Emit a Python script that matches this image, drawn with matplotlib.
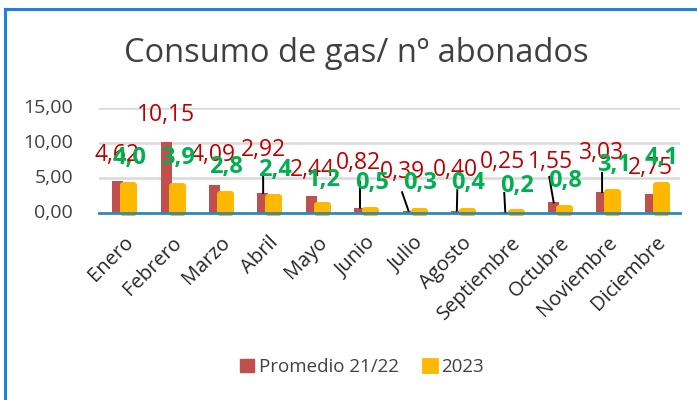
import matplotlib
matplotlib.use('Agg')
import matplotlib.pyplot as plt
import matplotlib.transforms as mtransforms
from matplotlib.patches import Patch
from matplotlib.lines import Line2D
import numpy as np

plt.rcParams['font.family'] = ['Open Sans', 'DejaVu Sans']

# ---- data ----
months = ['Enero', 'Febrero', 'Marzo', 'Abril', 'Mayo', 'Junio', 'Julio',
          'Agosto', 'Septiembre', 'Octubre', 'Noviembre', 'Diciembre']
promedio = [4.62, 10.15, 4.09, 2.92, 2.44, 0.82, 0.39, 0.40, 0.25, 1.55, 3.03, 2.75]
y2023 = [4.0, 3.9, 2.8, 2.4, 1.2, 0.5, 0.3, 0.4, 0.2, 0.8, 3.1, 4.1]
series_names = ['Promedio 21/22', '2023']
yticks = [0, 5, 10, 15]
title = 'Consumo de gas/ nº abonados'

# label placement (data units, relative to category)
red_dx = [-0.13, -0.12, -0.14, -0.11, -0.10, -0.15, -0.24, -0.14, -0.17, -0.18, -0.11, -0.12]
red_y = [8.3, 14.0, 8.3, 9.0, 6.2, 7.2, 5.9, 6.2, 7.3, 7.3, 8.6, 6.5]
green_dx = [0.13] * 12
green_y = [7.9, 7.9, 6.6, 6.2, 4.8, 4.3, 4.3, 4.3, 3.9, 4.6, 6.9, 7.9]
# leader lines: (category, end dx, end y)
leaders = [(3, -0.11, 5.2), (5, -0.11, 4.5), (6, -0.24, 3.0), (7, -0.10, 3.3),
           (8, -0.13, 2.9), (9, -0.20, 5.2), (10, -0.11, 5.75)]

RED = '#C0504D'
GOLD = '#FFB800'
RED_TXT = '#C00000'
GREEN_TXT = '#00B050'

fig = plt.figure(figsize=(6.97, 4.00), dpi=100)
ax = fig.add_axes([99/697, 1-213.3/400, (680-99)/697, (213.3-108.3)/400])

x = np.arange(len(months))
w = 0.228
ax.bar(x - w/2, promedio, w, color=RED, zorder=3, clip_on=False)
ax.bar(x + w/2, y2023, w, color=GOLD, edgecolor=GOLD, linewidth=4.3,
       joinstyle='round', zorder=4, clip_on=False)

ax.set_xlim(-0.5, len(months) - 0.5)
ax.set_ylim(0, 15)
ax.set_yticks(yticks)
ax.set_yticklabels([])
ax.tick_params(axis='y', length=0)
# y tick labels placed 26 px left of the plot area
ylab_tr = mtransforms.offset_copy(ax.get_yaxis_transform(), fig=fig,
                                  x=-26, y=0, units='dots')
for v in yticks:
    ax.text(0, v, f'{v:.2f}'.replace('.', ','), transform=ylab_tr,
            ha='right', va='center', fontsize=14, color='#404040', clip_on=False)

ax.set_xticks(x)
ax.set_xticklabels(months, rotation=45, ha='right', va='top',
                   rotation_mode='anchor', fontsize=14.5, color='#262626')
ax.tick_params(axis='x', length=0, pad=14)

ax.grid(axis='y', color='#D9D9D9', linewidth=1.8, zorder=0)
for s in ['top', 'right', 'left']:
    ax.spines[s].set_visible(False)
ax.spines['bottom'].set_color('#2E8AB8')
ax.spines['bottom'].set_linewidth(2.0)
ax.spines['bottom'].set_zorder(5)

# leader lines
for i, dx, ye in leaders:
    ax.plot([i - w/2 + 0.005, i + dx], [promedio[i], ye], color='black',
            linewidth=1.4, zorder=6, clip_on=False)

# data labels
for i in range(len(months)):
    ax.text(i + red_dx[i], red_y[i], f'{promedio[i]:.2f}'.replace('.', ','),
            color=RED_TXT, fontsize=16.5, ha='center', va='center', zorder=7,
            clip_on=False)
for i in range(len(months)):
    ax.text(i + green_dx[i], green_y[i], f'{y2023[i]:.1f}'.replace('.', ','),
            color=GREEN_TXT, fontsize=17, fontweight='bold', ha='center',
            va='center', zorder=8, clip_on=False)

fig.text(356/697, 1-54/400, title, ha='center', va='center', fontsize=23.5,
         color='#404040')

handles = [Patch(facecolor=RED, edgecolor=RED),
           Patch(facecolor=GOLD, edgecolor=GOLD, linewidth=2, joinstyle='round')]
fig.legend(handles, series_names, loc='center', bbox_to_anchor=(362/697, 1-367/400),
           ncol=2, frameon=False, fontsize=13.5, handlelength=0.75, handleheight=0.75,
           handletextpad=0.25, columnspacing=1.3, labelcolor='#404040')

# outer frame (top and left blue lines)
fig.add_artist(Line2D([5/697, 5/697], [0, 1-9/400], color='#1E7FE5', linewidth=2.2,
                      transform=fig.transFigure))
fig.add_artist(Line2D([5/697, 1], [1-9/400, 1-9/400], color='#1E7FE5', linewidth=2.2,
                      transform=fig.transFigure))

fig.savefig('out.png', dpi=100)
